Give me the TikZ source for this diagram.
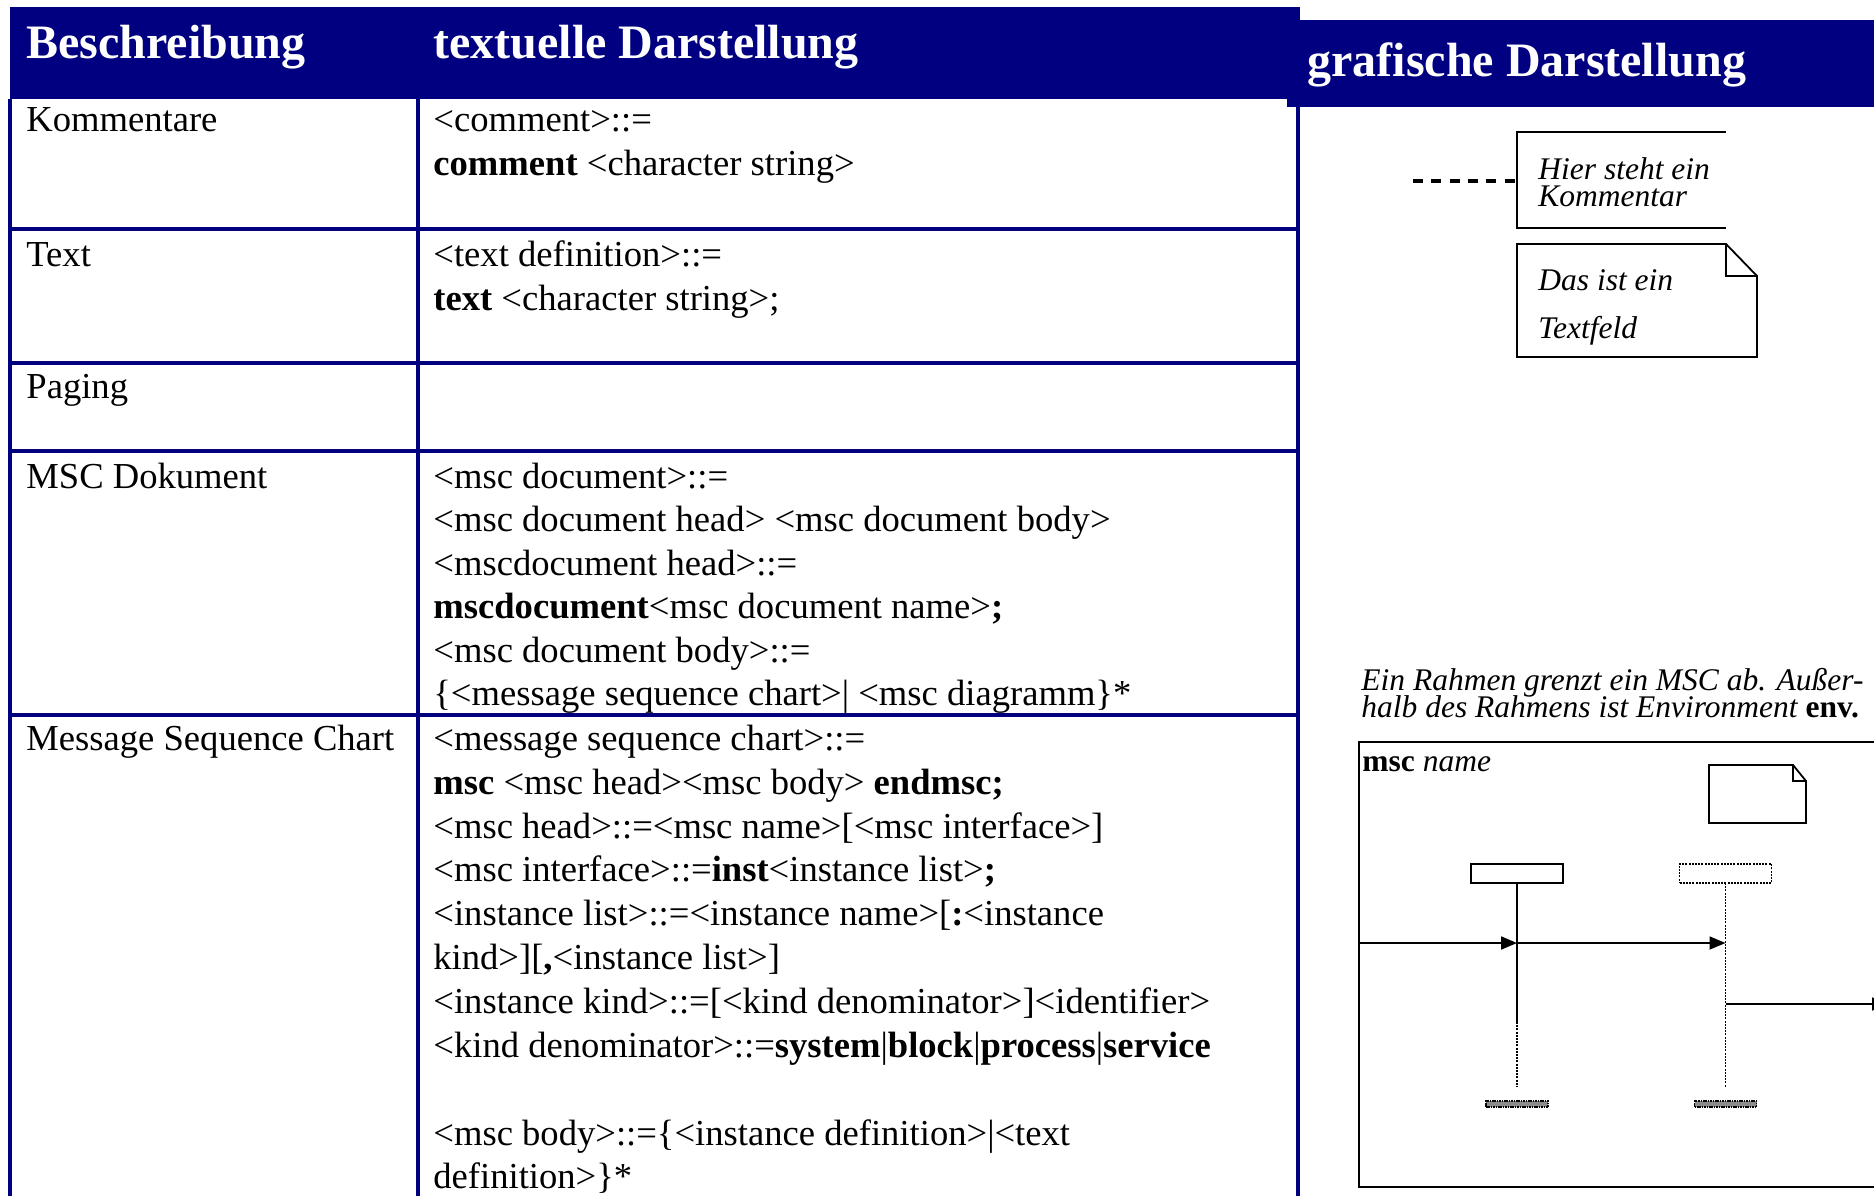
\documentclass[tikz,border=0pt]{standalone}
\usepackage{fontspec}
\setmainfont{Liberation Serif}
\usetikzlibrary{arrows.meta}
\definecolor{hdrblue}{RGB}{0,0,128}
\definecolor{stopgray}{RGB}{140,140,140}

\tikzset{
  hdrtext/.style={anchor=base west, inner sep=0pt, text=white, font=\fontsize{24}{28}\selectfont\bfseries},
  cell/.style={anchor=base west, inner sep=0pt, font=\fontsize{18.3}{22}\selectfont},
  rule/.style={draw=hdrblue, line width=1.75pt},
  note/.style={anchor=base west, inner sep=0pt, font=\fontsize{15.75}{14}\selectfont\itshape},
  thin/.style={draw=black, line width=0.9pt},
  dotline/.style={line width=0.9pt, dash pattern=on 1pt off 0.6pt},
  msg/.style={line width=0.9pt, -{Triangle[length=8pt,width=6.5pt]}},
  insthead/.style={draw=black, line width=0.9pt, minimum width=46pt, minimum height=9.5pt, inner sep=0pt, outer sep=0pt},
  stopbar/.style={fill=stopgray, draw=black, line width=0.6pt, dash pattern=on 0.8pt off 0.4pt,
    minimum width=31pt, minimum height=3pt, inner sep=0pt, outer sep=0pt},
}

\begin{document}
\begin{tikzpicture}[x=0.5pt,y=-0.5pt]
\useasboundingbox (0,0) rectangle (1874,1195);
\clip (0,0) rectangle (1874,1195);

% header bars
\fill[hdrblue] (10,7) rectangle (1300,99);
\fill[hdrblue] (1287,20) rectangle (1874,107);
\node[hdrtext] (hdA) at (26,58) {Beschreibung};
\node[hdrtext] (hdB) at (433,58) {textuelle Darstellung};
\node[hdrtext] (hdC) at (1307,76) {grafische Darstellung};

% table grid
\draw[rule] (10,99) -- (10,1200);
\draw[rule] (418,99) -- (418,1200);
\draw[rule] (1298,99) -- (1298,1200);
\foreach \yy in {229,363,451,715} \draw[rule] (10,\yy) -- (1298,\yy);

% row: comments
\node[cell] (dA) at (26,131) {Kommentare};
\node[cell] (tA1) at (433,131) {<comment>::=};
\node[cell] (tA2) at (433,175) {\textbf{comment} <character string>};

% row: text
\node[cell] (dB) at (26,266) {Text};
\node[cell] (tB1) at (433,266) {<text definition>::=};
\node[cell] (tB2) at (433,310) {\textbf{text} <character string>;};

% row: paging
\node[cell] (dC) at (26,398) {Paging};

% row: msc document
\node[cell] (dD) at (26,488) {MSC Dokument};
\node[cell] (tD1) at (433,488) {<msc document>::=};
\node[cell] (tD2) at (433,531.5) {<msc document head> <msc document body>};
\node[cell] (tD3) at (433,575) {<mscdocument head>::=};
\node[cell] (tD4) at (433,618.5) {\textbf{mscdocument}<msc document name>\textbf{;}};
\node[cell] (tD5) at (433,662) {<msc document body>::=};
\node[cell] (tD6) at (433,705.5) {\{<message sequence chart>| <msc diagramm\}*};

% row: message sequence chart
\node[cell] (dE) at (26,750) {Message Sequence Chart};
\node[cell] (tE1) at (433,750) {<message sequence chart>::=};
\node[cell] (tE2) at (433,794) {\textbf{msc} <msc head><msc body> \textbf{endmsc;}};
\node[cell] (tE3) at (433,838) {<msc head>::=<msc name>[<msc interface>]};
\node[cell] (tE4) at (433,881.5) {<msc interface>::=\textbf{inst}<instance list>\textbf{;}};
\node[cell] (tE5) at (433,925) {<instance list>::=<instance name>[\textbf{:}<instance};
\node[cell] (tE6) at (433,969) {kind>][\textbf{,}<instance list>]};
\node[cell] (tE7) at (433,1013) {<instance kind>::=[<kind denominator>]<identifier>};
\node[cell] (tE8) at (433,1057) {<kind denominator>::=\textbf{system}|\textbf{block}|\textbf{process}|\textbf{service}};
\node[cell] (tE9) at (433,1145) {<msc body>::=\{<instance definition>|<text};
\node[cell] (tE10) at (433,1188.5) {definition>\}*};

% comment symbol
\draw[line width=2pt, dash pattern=on 5pt off 4.15pt] (1413,180.5) -- (1517,180.5);
\draw[thin] (1726,132) -- (1517,132) -- (1517,228) -- (1726,228);
\node[note] (cm1) at (1538,179) {Hier steht ein};
\node[note] (cm2) at (1538,206) {Kommentar};

% text symbol
\draw[thin] (1517,244) -- (1726,244) -- (1757,276) -- (1757,357) -- (1517,357) -- cycle;
\draw[thin] (1726,244) |- (1757,276);
\node[note] (tx1) at (1538,290) {Das ist ein};
\node[note] (tx2) at (1538,338) {Textfeld};

% caption
\node[note] (cap1) at (1361,690) {Ein Rahmen grenzt ein MSC ab. Außer-};
\node[note] (cap2) at (1361,717) {halb des Rahmens ist Environment \textbf{\upshape env.}};

% msc frame
\draw[line width=1.1pt] (1359,742) rectangle (1900,1187);
\node[note] (mscname) at (1362,771) {\textbf{\upshape msc} name};

% text symbol inside the frame
\draw[thin] (1709,765) -- (1793,765) -- (1806,781) -- (1806,823) -- (1709,823) -- cycle;
\draw[thin] (1793,765) |- (1806,781);

% instances
\node[insthead] (headA) at (1517,873.5) {};
\node[insthead, dash pattern=on 1pt off 0.6pt] (headB) at (1725.5,873.5) {};
\node[stopbar] (stopA) at (1517,1104) {};
\node[stopbar] (stopB) at (1725.5,1104) {};

\coordinate (mA) at (1517,943);
\coordinate (splitA) at (1517,1022);
\coordinate (endA) at (1517,1087);
\coordinate (mB) at (1725.5,943);
\coordinate (oB) at (1725.5,1004);
\coordinate (endB) at (1725.5,1087);
\coordinate (envIn) at (1359,943);
\coordinate (envOut) at (1888,1004);

\draw[line width=0.9pt] (headA.south) -- (splitA);
\draw[dotline] (splitA) -- (endA);
\draw[dotline] (headB.south) -- (endB);

% messages
\draw[msg] (envIn) -- (mA);
\draw[msg] (mA) -- (mB);
\draw[msg] (oB) -- (envOut);
\end{tikzpicture}
\end{document}
